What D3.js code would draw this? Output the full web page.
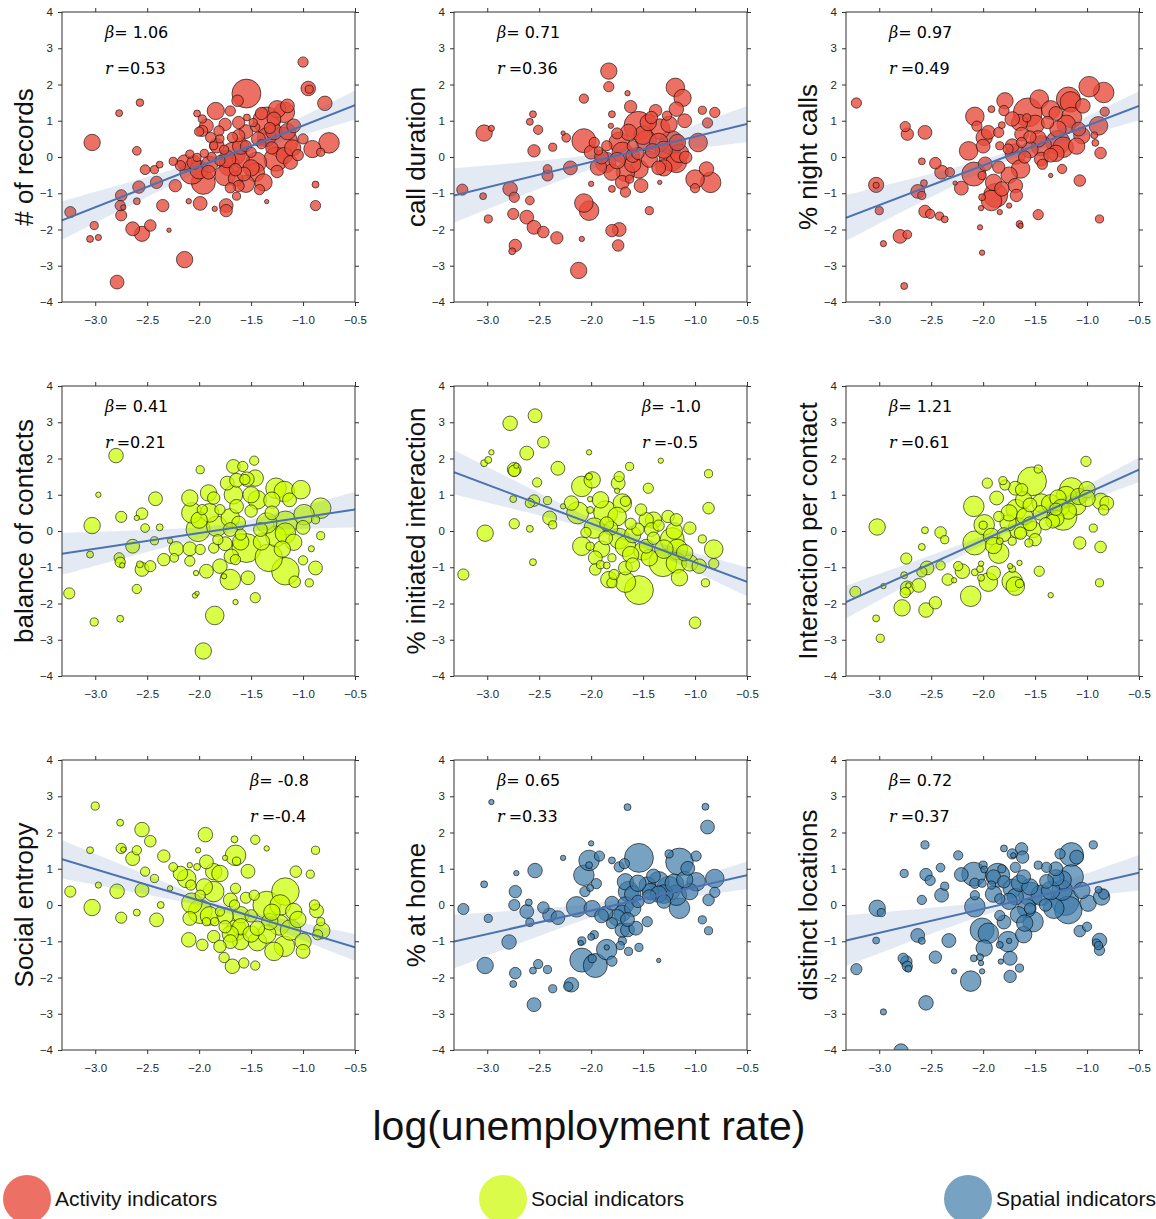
<!DOCTYPE html>
<html><head><meta charset="utf-8">
<script src="https://cdn.jsdelivr.net/npm/d3@7/dist/d3.min.js"></script>
<style>body{margin:0;background:#fff}svg{display:block}</style>
</head><body>
<svg id="chart" width="1156" height="1219"></svg>
<script>
// ---------- data ----------
const xTicks = [-3.0, -2.5, -2.0, -1.5, -1.0, -0.5];
const yTicks = [-4, -3, -2, -1, 0, 1, 2, 3, 4];
const xDomain = [-3.32, -0.5];
const yDomain = [-4, 4];
const xLabel = "log(unemployment rate)";
const groups = ["Activity indicators", "Social indicators", "Spatial indicators"];
const panelNames = ["# of records", "call duration", "% night calls", "balance of contacts", "% initiated interaction", "Interaction per contact", "Social entropy", "% at home", "distinct locations"];
const panelGroup = [0, 0, 0, 1, 1, 1, 1, 2, 2];
const betas = ["1.06", "0.71", "0.97", "0.41", "-1.0", "1.21", "-0.8", "0.65", "0.72"];
const corrs = ["0.53", "0.36", "0.49", "0.21", "-0.5", "0.61", "-0.4", "0.33", "0.37"];
const annotRight = [false, false, false, false, true, false, true, false, false];
// fitted line value at the left and right edge of the x domain
const fitEnds = [[-1.75, 1.43], [-1.06, 0.91], [-1.68, 1.41], [-0.63, 0.59], [1.62, -1.40], [-1.96, 1.69], [1.26, -1.17], [-1.01, 0.82], [-0.98, 0.89]];
// confidence band half-width: [left edge, narrowest, right edge]
const ciHalf = [[0.53, 0.12, 0.40], [0.75, 0.16, 0.50], [0.63, 0.13, 0.40], [0.58, 0.14, 0.49], [0.61, 0.12, 0.40], [0.45, 0.10, 0.34], [0.53, 0.11, 0.37], [0.74, 0.15, 0.38], [0.70, 0.15, 0.49]];
const ciCenter = -1.75;

// points: [log unemployment, indicator z-score, population]
const recordsPts = [[-3.24,-1.52,13],[-3.03,0.40,28],[-3.01,-1.89,7],[-3.05,-2.26,5],[-2.97,-2.22,4],[-2.77,1.21,5],[-2.79,-3.45,20],[-2.75,-1.06,14],[-2.76,-1.34,11],[-2.73,-1.39,3],[-2.75,-1.61,13],[-2.64,-1.98,20],[-2.55,-2.12,24],[-2.47,-1.89,14],[-2.57,1.50,6],[-2.60,0.17,8],[-2.60,-1.22,5],[-2.58,-0.83,16],[-2.52,-0.35,10],[-2.43,-0.35,7],[-2.38,-0.21,5],[-2.41,-0.70,16],[-2.35,-1.34,16],[-2.25,-0.12,7],[-2.29,-2.02,2],[-2.23,-0.79,16],[-2.14,-2.83,28],[-2.10,-1.22,3],[-1.99,-1.28,20],[-2.02,1.20,5],
[-1.545,1.75,87],[-1.35,1.0,79],[-1.18,1.23,44],[-1.2,0.4,100],[-1.26,-0.06,60],[-1.18,0.04,28],[-1.45,-0.15,44],[-1.46,-0.42,36],[-1.55,-0.74,31],[-1.67,0.08,60],[-1.71,-0.24,44],[-1.75,-0.51,44],[-1.84,1.27,31],[-1.96,-0.70,60],[-2.07,-0.42,60],[-1.83,0.31,22],[-1.93,0.86,20],[-0.95,1.89,22],[-0.79,1.48,22],[-0.75,0.39,44],[-0.91,0.22,31],[-1.0,2.62,11],[-0.94,1.87,7],[-0.88,-0.76,5],[-0.88,-1.34,11],[-0.83,0.13,7],[-1.62,0.59,16],[-1.68,0.54,11],[-1.70,1.27,11],[-1.63,1.55,14],[-1.62,0.95,16],[-1.81,0.72,11],[-1.80,0.50,7],[-1.97,1.05,7],[-1.97,0.72,13],[-1.89,0.54,11],[-1.86,0.31,7],[-1.74,-1.34,20],[-1.74,-1.48,16],[-1.64,-1.08,7],[-1.85,-1.43,3],[-1.35,-1.23,2],[-1.54,1.09,5],[-1.46,0.82,9],[-1.50,0.13,11],[-1.43,0.50,20],[-2.14,-0.15,24],[-2.18,-0.24,11],[-2.05,-0.15,20],[-2.09,0.08,7],[-2.02,-0.01,7],[-1.09,0.86,20],[-1.15,1.41,20],[-1.25,1.32,31],[-1.28,1.05,20],[-1.57,-0.47,20],[-1.38,-0.70,31],[-1.60,-0.06,31],[-1.73,-0.06,31],[-1.91,-0.42,20],[-1.12,-0.15,20],[-1.30,0.25,16],[-1.40,0.35,9],[-1.55,0.30,13],[-1.65,-0.35,16],[-1.80,-0.10,11],[-1.88,0.00,9],[-1.95,0.10,7],[-1.05,0.05,13],[-1.32,0.80,13],[-1.48,0.95,7],[-1.62,-0.80,13],[-1.25,-0.40,16],[-1.00,0.50,11],[-1.42,-0.90,11],[-1.76,0.20,9],[-2.00,0.70,9],[-1.70,-0.85,11],
[-1.35,0.55,36],[-1.28,0.70,28],[-1.50,-0.30,28],[-1.60,0.30,28],[-1.90,-0.20,28],[-2.00,-0.35,36],[-1.75,0.90,16],[-1.55,0.70,20],[-1.15,0.70,28],[-1.40,1.20,16],[-1.10,0.25,28],[-1.65,-0.60,22]];

const durationPts = [[-3.24,-0.90,13],[-3.03,0.66,28],[-2.96,0.79,4],[-2.99,-1.71,7],[-3.04,-1.08,5],[-2.78,-0.88,22],[-2.74,-1.11,11],[-2.75,-1.57,13],[-2.73,-2.44,16],[-2.76,-2.60,5],[-2.56,1.18,5],[-2.59,0.97,5],[-2.51,0.75,9],[-2.55,0.17,16],[-2.59,-1.20,8],[-2.62,-1.66,20],[-2.55,-1.94,20],[-2.46,-2.07,14],[-2.42,-0.33,8],[-2.42,-0.51,13],[-2.37,0.27,7],[-2.33,-2.23,16],[-2.27,0.66,2],[-2.24,0.53,8],[-2.20,-0.30,20],[-2.09,-2.26,3],[-2.12,-3.13,28],[-2.07,1.61,9],[-2.07,-1.27,36],[-2.02,-1.48,40],[-2.00,-0.74,3],
[-1.19,1.92,36],[-1.12,1.63,31],[-1.83,2.37,28],[-1.83,1.94,11],[-1.65,1.76,3],[-1.62,1.39,16],[-1.80,1.18,5],[-1.81,0.86,3],[-1.545,0.86,87],[-1.38,1.28,16],[-1.42,1.09,16],[-1.27,1.14,9],[-1.18,1.32,22],[-1.10,1.00,20],[-0.93,1.29,7],[-0.81,1.23,11],[-0.88,0.94,11],[-0.97,0.40,36],[-0.89,-0.33,22],[-0.85,-0.70,44],[-1.00,-0.61,36],[-1.00,-0.86,9],[-1.18,-0.15,44],[-1.23,-0.06,60],[-1.23,0.40,60],[-1.34,0.77,44],[-1.47,0.45,44],[-1.54,-0.33,36],[-1.52,-0.79,20],[-1.44,-1.48,7],[-1.34,-0.70,2],[-1.67,-0.97,11],[-1.73,-2.00,20],[-1.80,-2.03,16],[-1.74,-2.44,14],[-1.80,-0.42,28],[-1.67,-0.42,36],[-1.86,-0.15,44],[-1.93,-0.28,28],[-2.00,0.13,20],[-1.97,0.40,11],[-2.07,0.45,60],[-1.85,0.31,11],[-1.73,0.40,44],[-1.64,0.68,28],[-1.60,0.04,20],[-1.70,0.13,44],[-1.80,-0.88,5],[-1.63,-0.61,7],[-1.44,-0.06,28],[-1.41,0.17,22],[-1.17,0.40,28],[-1.09,-0.01,16],[-1.93,0.17,7],[-1.30,0.20,31],[-1.55,0.10,16],[-1.75,0.65,13],[-1.35,-0.30,20],[-1.60,0.30,13],
[-1.50,0.60,36],[-1.35,0.40,36],[-1.60,-0.20,28],[-1.75,-0.10,28],[-1.25,0.90,28],[-1.45,0.95,28],[-1.90,0.00,20],[-1.15,0.10,36],[-1.30,-0.30,28],[-1.70,-0.70,20]];

const nightPts = [[-3.22,1.49,11],[-3.03,-0.77,24],[-3.03,-0.78,4],[-3.00,-1.48,7],[-2.96,-2.39,4],[-2.75,0.84,11],[-2.73,0.63,16],[-2.80,-2.19,20],[-2.73,-2.14,8],[-2.76,-3.56,5],[-2.59,-0.12,5],[-2.56,0.68,20],[-2.57,-0.72,5],[-2.63,-0.95,20],[-2.59,-1.06,7],[-2.56,-1.50,16],[-2.51,-1.57,9],[-2.46,-0.17,14],[-2.42,-1.63,7],[-2.37,-1.72,5],[-2.40,-0.42,20],[-2.32,-0.42,9],[-2.27,-0.72,2],[-2.21,-0.86,20],[-2.14,0.17,36],[-2.08,1.12,36],[-2.06,0.85,11],[-2.01,-1.11,5],[-2.02,-1.41,3],[-2.03,-1.94,3],[-2.01,-2.64,3],[-1.84,-1.52,3],[-1.75,-1.34,3],[-1.65,-1.85,5],[-1.64,-1.90,3],[-1.47,-1.59,11],[-1.35,-0.51,2],[-1.07,-0.65,14],[-0.88,-1.71,7],[-0.87,0.11,14],[-0.92,0.39,5],[-0.83,1.25,9],[-0.84,1.78,44],[-0.98,1.94,44],[-1.04,1.41,22],[-0.89,0.86,36],[-0.93,0.60,5],[-1.18,1.60,60],[-1.16,1.52,44],[-1.15,1.09,44],[-1.28,0.77,28],[-1.28,0.40,60],[-1.23,0.27,44],[-1.24,-0.33,9],[-1.05,0.59,28],[-1.08,0.77,20],[-1.46,1.60,36],[-1.57,1.23,87],[-1.58,1.08,7],[-1.72,1.05,22],[-1.79,1.55,28],[-1.80,1.28,11],[-1.92,1.32,5],[-1.82,0.88,5],[-1.99,0.54,28],[-1.95,0.68,20],[-1.85,0.68,11],[-1.63,0.63,20],[-1.63,0.40,11],[-1.47,0.50,28],[-1.44,0.31,44],[-1.44,-0.06,20],[-1.43,-0.20,11],[-1.69,0.08,44],[-1.72,0.31,20],[-1.64,-0.33,36],[-1.69,-0.79,22],[-1.68,-1.06,16],[-1.88,-1.06,60],[-1.92,-1.20,44],[-1.82,-0.88,22],[-2.09,-0.47,60],[-1.98,-0.19,20],[-1.85,-0.28,16],[-2.01,-0.51,7],[-1.84,0.31,7],[-1.76,0.22,11],[-1.30,1.20,20],[-1.38,0.95,16],[-1.55,0.55,16],[-1.60,0.0,16],[-1.35,0.05,20],
[-1.50,0.90,36],[-1.35,1.30,36],[-1.20,0.90,36],[-1.55,0.20,28],[-1.75,-0.50,28],[-1.90,-0.70,28],[-1.65,0.95,28],[-1.10,0.30,28],[-1.30,0.10,28],[-2.00,0.30,20]];

const balancePts = [[-3.25,-1.72,13],[-3.03,0.15,28],[-2.97,1.00,3],[-3.05,-0.65,5],[-3.01,-2.51,7],[-2.80,2.08,22],[-2.75,0.39,13],[-2.76,-2.42,5],[-2.77,-0.74,11],[-2.76,-0.86,11],[-2.74,-0.95,3],[-2.60,0.36,3],[-2.55,0.48,14],[-2.60,-1.60,9],[-2.64,-0.42,20],[-2.55,-1.06,20],[-2.57,-0.92,5],[-2.47,-0.97,13],[-2.52,0.08,8],[-2.42,0.89,20],[-2.43,-0.27,7],[-2.38,0.10,5],[-2.34,-0.79,16],[-2.28,-0.27,3],[-2.24,-0.74,8],[-2.22,-0.49,22],[-1.99,1.69,7],[-2.09,-0.49,20],[-2.09,-0.83,11],[-2.03,-1.16,3],[-2.04,-1.78,3],[-2.02,-1.72,2],[-1.93,-1.11,20],[-1.85,-2.33,36],[-1.96,-3.31,28],[-1.76,-1.25,3],[-1.70,-1.34,44],[-1.65,-1.96,3],[-1.53,-1.29,20],[-1.46,-1.84,11],[-1.47,1.94,9],[-1.67,1.78,20],[-1.58,1.78,11],[-1.56,1.42,11],[-1.54,1.43,22],[-1.46,1.46,28],[-1.73,1.32,20],[-1.64,1.40,20],[-1.67,1.00,36],[-1.64,0.68,20],[-1.44,0.86,36],[-1.26,1.18,44],[-1.18,1.09,44],[-1.02,1.14,36],[-1.13,0.86,20],[-0.83,0.63,44],[-0.99,0.45,44],[-0.88,0.31,7],[-0.83,-0.13,7],[-0.92,-0.49,4],[-1.00,-0.81,9],[-0.88,-1.02,20],[-0.94,-1.43,7],[-1.08,-1.40,14],[-1.17,-1.11,79],[-1.33,-0.74,79],[-1.26,-0.15,44],[-1.17,-0.06,44],[-1.09,-0.31,28],[-1.17,0.22,60],[-1.35,0.22,44],[-1.545,-0.47,87],[-1.69,-0.70,22],[-1.65,-0.79,11],[-1.70,0.36,36],[-1.62,0.22,20],[-1.83,0.13,44],[-2.01,0.04,60],[-2.07,0.50,44],[-2.09,0.91,28],[-1.91,1.05,28],[-1.86,0.91,16],[-1.80,0.59,11],[-1.97,0.59,11],[-1.99,-0.51,11],[-1.86,-0.47,11],[-1.82,-0.24,11],[-1.70,0.04,20],[-1.80,-0.97,22],[-1.41,0.04,20],[-1.50,0.55,16],[-1.30,0.50,20],[-1.60,-0.10,13],
[-1.90,0.50,36],[-2.00,0.30,28],[-1.50,1.00,28],[-1.30,0.85,28],[-1.40,-0.30,28],[-1.60,-0.30,28],[-1.75,-0.35,20],[-1.20,-0.50,28],[-1.00,0.10,20]];

const initiatedPts = [[-3.23,-1.20,13],[-3.02,-0.06,28],[-3.03,1.87,5],[-2.99,1.96,5],[-2.96,2.17,3],[-2.78,2.97,22],[-2.74,1.66,14],[-2.72,1.80,3],[-2.74,1.70,20],[-2.75,0.88,5],[-2.74,0.20,11],[-2.59,0.06,5],[-2.56,-0.86,5],[-2.54,3.18,20],[-2.62,2.15,20],[-2.52,1.34,9],[-2.55,0.84,14],[-2.59,0.77,9],[-2.46,2.45,14],[-2.42,0.84,7],[-2.40,0.36,20],[-2.37,0.17,7],[-2.32,1.73,20],[-2.27,0.68,3],[-2.19,0.77,22],[-2.02,2.17,3],[-2.09,1.23,44],[-1.99,1.41,28],[-2.02,1.50,5],[-2.01,0.88,3],[-2.01,0.58,5],[-2.13,0.50,50],[-2.05,-0.04,11],[-2.09,-0.42,36],[-2.01,-0.42,7],[-1.96,-0.74,20],[-1.96,-1.06,14],[-1.91,-0.93,7],[-1.85,-0.95,5],[-1.80,-0.74,7],[-1.83,-1.34,28],[-1.80,-1.43,11],[-1.78,-1.20,11],[-1.67,-1.41,44],[-1.67,-1.02,20],[-1.54,-1.63,87],[-1.60,-0.93,20],[-1.62,-0.65,28],[-1.73,-0.21,44],[-1.67,-0.42,44],[-1.86,0.50,60],[-1.91,0.86,28],[-1.97,0.08,44],[-1.81,0.08,20],[-1.86,-0.19,20],[-1.73,1.50,11],[-1.74,1.32,20],[-1.75,1.11,3],[-1.63,1.78,7],[-1.70,0.77,36],[-1.67,0.82,11],[-1.52,0.59,14],[-1.45,1.18,11],[-1.33,1.94,3],[-1.47,0.31,22],[-1.42,0.04,20],[-1.44,-0.74,28],[-1.47,-0.42,20],[-1.31,-0.88,79],[-1.22,-0.24,60],[-1.26,0.40,16],[-1.18,0.31,16],[-1.17,-0.51,44],[-1.18,-0.88,44],[-1.15,-1.29,28],[-1.05,0.08,16],[-1.05,-0.88,28],[-0.96,-0.97,22],[-0.93,-0.22,7],[-0.82,-0.50,36],[-0.82,-0.90,11],[-0.90,-1.43,7],[-0.87,0.63,14],[-0.87,1.58,7],[-1.00,-2.53,14],[-1.55,0.05,16],[-1.40,-0.20,16],[-1.62,0.20,13],[-1.35,0.15,13],
[-1.75,0.40,36],[-1.60,-0.10,28],[-1.50,-0.55,36],[-1.30,-0.50,36],[-1.40,0.30,28],[-1.90,-0.50,28],[-1.20,0.00,28],[-1.10,-0.60,28],[-1.85,0.20,20]];

const interactionPts = [[-3.23,-1.68,13],[-3.02,0.11,28],[-3.03,-2.41,5],[-2.99,-2.96,7],[-2.96,-1.52,3],[-2.78,-2.12,28],[-2.74,-0.76,13],[-2.76,-1.22,5],[-2.73,-1.57,20],[-2.75,-1.70,11],[-2.72,-1.50,3],[-2.62,-1.50,20],[-2.59,-0.44,5],[-2.56,0.02,5],[-2.59,-1.13,11],[-2.54,-1.02,20],[-2.55,-2.18,22],[-2.46,-1.98,16],[-2.41,-0.95,9],[-2.41,-0.04,14],[-2.37,-0.24,7],[-2.34,-1.34,14],[-2.28,-1.36,3],[-2.24,-0.97,9],[-2.20,-1.11,22],[-2.12,-1.80,44],[-2.08,-1.14,5],[-2.09,0.68,44],[-2.08,-0.33,60],[-2.02,-0.90,3],[-2.03,-1.05,5],[-2.02,-1.29,5],[-1.99,0.17,44],[-1.96,1.32,11],[-2.00,0.16,7],[-1.95,-1.41,36],[-1.92,-0.15,28],[-1.90,-1.16,20],[-1.85,-0.61,44],[-1.84,-0.28,5],[-1.85,0.40,11],[-1.81,1.39,7],[-1.79,1.27,11],[-1.87,0.91,20],[-1.74,-0.97,3],[-1.72,-1.05,5],[-1.72,-1.39,44],[-1.69,-1.52,36],[-1.65,-1.45,7],[-1.65,-0.88,3],[-1.68,0.59,44],[-1.69,1.18,20],[-1.63,1.14,16],[-1.76,0.22,28],[-1.66,0.08,44],[-1.64,-0.06,16],[-1.72,-0.28,7],[-1.61,0.86,28],[-1.53,1.37,87],[-1.47,1.71,7],[-1.55,0.72,20],[-1.52,0.04,28],[-1.50,-0.24,16],[-1.56,-0.33,7],[-1.46,-1.11,11],[-1.35,-1.77,3],[-1.44,0.77,36],[-1.45,0.50,22],[-1.28,0.91,28],[-1.23,0.40,79],[-1.25,0.65,28],[-1.15,1.14,60],[-1.20,0.95,44],[-1.18,0.55,28],[-1.08,0.95,28],[-1.00,1.14,28],[-1.01,1.92,11],[-0.87,0.82,28],[-0.81,0.77,20],[-0.84,0.58,11],[-0.94,0.08,7],[-1.07,-0.33,16],[-0.87,-0.44,14],[-0.88,-1.43,7],[-1.33,0.27,20],[-1.40,0.20,16],[-1.30,0.60,16],
[-1.75,0.50,28],[-1.60,0.40,28],[-1.35,0.75,36],[-1.10,0.70,36],[-1.00,0.90,28],[-1.30,0.35,28],[-1.90,-0.40,28],[-1.80,-0.10,20],[-1.55,0.20,20]];

const entropyPts = [[-3.24,0.37,13],[-3.03,-0.07,28],[-3.00,2.73,7],[-3.05,1.51,5],[-2.97,0.55,4],[-2.79,0.38,22],[-2.76,2.27,5],[-2.75,1.56,11],[-2.73,1.53,3],[-2.75,-0.35,13],[-2.64,1.28,20],[-2.60,1.51,9],[-2.55,2.08,22],[-2.55,0.41,20],[-2.60,-0.21,5],[-2.52,0.92,9],[-2.47,1.76,14],[-2.43,0.73,7],[-2.41,-0.41,20],[-2.37,0.00,5],[-2.34,1.35,16],[-2.28,0.46,3],[-2.25,1.05,8],[-2.18,0.87,22],[-2.12,0.73,36],[-2.08,0.55,11],[-2.09,1.10,3],[-2.01,1.51,3],[-2.02,1.05,5],[-1.94,1.94,22],[-1.93,1.19,20],[-1.86,0.92,28],[-1.80,0.87,28],[-1.86,0.37,44],[-1.99,0.27,11],[-2.07,0.05,44],[-1.99,-0.18,60],[-2.09,-0.37,20],[-2.10,-0.96,22],[-1.97,-1.10,14],[-1.93,-0.46,7],[-1.85,-0.46,7],[-1.80,-0.18,9],[-1.86,-0.87,16],[-1.80,-1.14,16],[-1.76,-1.45,11],[-1.68,-1.69,22],[-1.57,-1.60,11],[-1.46,-1.67,9],[-1.65,1.37,44],[-1.75,1.30,3],[-1.64,1.21,7],[-1.66,1.81,5],[-1.46,1.80,9],[-1.35,1.56,3],[-1.53,0.93,20],[-1.65,0.46,11],[-1.70,0.14,20],[-1.66,0.00,11],[-1.60,-0.27,28],[-1.64,-0.69,44],[-1.70,-1.01,20],[-1.60,-1.01,28],[-1.47,0.27,11],[-1.44,-0.64,22],[-1.44,-1.01,36],[-1.35,0.00,79],[-1.32,-0.46,28],[-1.28,-1.28,36],[-1.17,0.37,79],[-1.22,0.00,44],[-1.23,-0.55,44],[-1.18,-1.14,44],[-1.09,-0.18,28],[-1.12,-0.69,44],[-1.00,-1.01,28],[-1.07,0.92,14],[-0.93,0.85,7],[-0.88,1.51,7],[-0.87,-0.16,20],[-0.89,0.00,11],[-0.82,-0.71,28],[-0.83,-0.46,7],[-0.86,-0.82,11],[-1.00,-1.28,20],[-1.50,-0.30,16],[-1.75,-0.60,16],[-1.55,0.20,13],
[-1.90,-0.30,36],[-1.75,-0.30,28],[-1.60,-0.60,28],[-1.50,-0.80,28],[-1.35,-0.80,36],[-1.30,-0.20,28],[-1.05,-0.40,28],[-1.70,-0.80,28],[-1.95,0.50,28]];

const homePts = [[-3.23,-0.11,13],[-2.96,2.84,3],[-3.03,0.57,5],[-2.99,-0.37,7],[-3.02,-1.67,28],[-2.79,-1.02,22],[-2.72,0.88,3],[-2.73,0.37,16],[-2.74,0.00,13],[-2.73,-1.88,14],[-2.75,-2.18,5],[-2.60,0.07,5],[-2.62,-0.18,20],[-2.59,-0.48,7],[-2.54,0.95,22],[-2.56,-1.81,5],[-2.55,-2.75,20],[-2.51,-1.63,9],[-2.46,-0.07,14],[-2.42,-1.78,7],[-2.40,-0.28,20],[-2.37,-2.31,7],[-2.32,-0.35,20],[-2.27,1.30,3],[-2.19,-2.20,22],[-2.22,-2.25,9],[-2.14,-0.05,44],[-2.09,-0.99,7],[-2.10,-1.05,3],[-2.07,0.82,44],[-2.02,1.23,44],[-2.06,0.37,11],[-1.99,-0.10,28],[-2.00,1.70,3],[-2.02,1.10,5],[-2.01,0.47,5],[-1.92,1.35,11],[-1.95,0.59,11],[-1.97,-0.82,7],[-2.00,-0.88,5],[-1.99,-1.48,7],[-2.09,-1.52,60],[-1.96,-1.67,60],[-1.85,-1.23,44],[-1.85,-1.17,3],[-1.80,-1.55,11],[-1.86,-0.23,22],[-1.80,0.05,20],[-1.80,1.23,5],[-1.73,1.05,11],[-1.68,1.14,11],[-1.70,-0.99,7],[-1.72,-1.12,7],[-1.64,-1.28,7],[-1.54,-1.17,7],[-1.65,2.70,5],[-1.54,1.30,87],[-1.67,0.64,28],[-1.64,0.37,44],[-1.67,0.00,28],[-1.70,-0.23,28],[-1.60,-0.09,28],[-1.65,-0.69,20],[-1.70,-0.69,22],[-1.57,-0.64,20],[-1.46,-0.46,11],[-1.35,-1.53,2],[-1.46,0.55,28],[-1.43,0.37,28],[-1.44,0.23,20],[-1.35,0.64,44],[-1.25,0.46,60],[-1.15,1.19,79],[-1.25,1.41,7],[-1.07,1.01,20],[-0.99,1.35,11],[-0.99,0.64,36],[-1.05,0.37,28],[-1.15,-0.09,44],[-1.18,0.27,44],[-0.81,0.73,36],[-0.81,0.35,11],[-0.87,0.14,14],[-0.88,2.15,20],[-0.90,2.71,5],[-0.93,-0.41,7],[-0.87,-0.71,7],[-1.35,0.30,28],[-1.55,0.10,16],[-1.80,-0.50,13],[-1.30,0.10,20],
[-1.60,0.30,28],[-1.55,0.60,28],[-1.30,0.30,36],[-1.20,0.60,36],[-1.75,-0.35,28],[-1.65,-0.40,20],[-1.40,0.80,20],[-1.10,0.70,28],[-1.90,-0.30,20]];

const locationsPts = [[-3.22,-1.77,13],[-3.02,-0.09,28],[-2.98,-0.21,7],[-3.03,-0.98,5],[-2.96,-2.95,4],[-2.76,0.87,7],[-2.77,-1.47,11],[-2.74,-1.56,14],[-2.73,-1.69,11],[-2.72,-1.76,5],[-2.79,-4.03,22],[-2.56,1.66,7],[-2.55,0.84,16],[-2.51,0.68,11],[-2.59,0.14,9],[-2.63,-0.84,20],[-2.59,-0.99,5],[-2.55,-2.70,22],[-2.46,-1.44,16],[-2.41,1.03,8],[-2.37,0.52,7],[-2.40,0.27,20],[-2.33,-0.98,20],[-2.28,-1.83,3],[-2.24,1.37,9],[-2.21,0.84,20],[-2.12,-2.10,44],[-2.09,-1.47,5],[-2.03,-1.44,5],[-2.02,-1.60,3],[-2.01,-1.83,3],[-2.00,1.10,7],[-1.99,0.98,5],[-2.09,0.85,60],[-2.08,0.60,11],[-2.08,0.27,9],[-2.08,-0.05,44],[-2.01,0.60,7],[-2.01,-0.69,60],[-1.99,-1.19,28],[-1.95,-0.78,44],[-1.92,0.55,7],[-1.90,0.78,20],[-1.86,0.82,60],[-1.80,0.64,16],[-1.80,1.56,5],[-1.82,1.00,7],[-1.84,0.17,11],[-1.84,-0.29,11],[-1.80,-0.47,20],[-1.84,-1.10,5],[-1.83,-1.56,3],[-1.76,-1.01,44],[-1.75,-0.99,3],[-1.74,-1.47,20],[-1.74,-1.97,16],[-1.65,-1.74,7],[-1.72,1.41,11],[-1.71,1.37,3],[-1.63,1.55,16],[-1.62,1.32,16],[-1.69,1.04,11],[-1.72,0.46,36],[-1.69,0.23,28],[-1.66,-0.27,28],[-1.61,-0.82,28],[-1.52,-0.46,44],[-1.58,-0.09,36],[-1.61,0.78,20],[-1.47,1.10,7],[-1.39,1.04,11],[-1.44,0.27,44],[-1.39,0.65,20],[-1.32,-0.09,44],[-1.26,1.41,11],[-1.24,0.69,36],[-1.24,0.41,44],[-1.15,1.39,60],[-1.10,1.32,20],[-1.15,0.78,60],[-1.21,0.09,79],[-1.18,-0.14,79],[-0.99,0.05,28],[-1.07,-0.72,14],[-1.00,-0.60,9],[-0.94,1.66,7],[-0.86,0.22,28],[-0.84,0.30,11],[-0.89,0.42,5],[-0.88,-0.98,22],[-0.91,-1.05,7],[-0.88,-1.25,11],[-0.89,-1.12,7],[-1.545,0.30,60],[-1.40,0.00,16],[-1.55,-0.10,13],
[-1.65,0.60,28],[-1.55,0.50,28],[-1.35,0.40,36],[-1.30,0.75,28],[-1.75,0.10,28],[-1.60,-0.50,28],[-1.90,0.30,28],[-1.05,0.40,28],[-1.30,1.00,20]];

const panelPoints = [recordsPts, durationPts, nightPts, balancePts, initiatedPts, interactionPts, entropyPts, homePts, locationsPts];

// ---------- styling / layout ----------
const groupFill = ["#e74c3c", "#ccff00", "#3d7ba8"];
const groupOpacity = [0.8, 0.72, 0.7];
const legendFill = ["#ec7063", "#dafb4a", "#78a2c2"];
const lineColor = "#4c72b0";
const colLeft = [62, 454, 846];
const rowTop = [12, 386, 760];
const pw = 293, ph = 290;

const svg = d3.select("#chart");
const x = d3.scaleLinear().domain(xDomain).range([0, pw]);
const y = d3.scaleLinear().domain(yDomain).range([ph, 0]);
const rScale = d3.scaleSqrt().domain([0, 100]).range([0, 15.5]);
const fmtX = d3.format(".1f");
const fmtY = d3.format("d");

panelNames.forEach((name, i) => {
  const col = i % 3, row = Math.floor(i / 3);
  const g = svg.append("g").attr("transform", `translate(${colLeft[col]},${rowTop[row]})`);
  const grp = panelGroup[i];

  g.append("clipPath").attr("id", "clip" + i)
    .append("rect").attr("width", pw).attr("height", ph);

  const plot = g.append("g").attr("clip-path", `url(#clip${i})`);

  const pts = panelPoints[i].slice().sort((a, b) => b[2] - a[2]);
  plot.selectAll("circle").data(pts).join("circle")
    .attr("cx", d => x(d[0]))
    .attr("cy", d => y(d[1]))
    .attr("r", d => rScale(d[2]))
    .attr("fill", groupFill[grp])
    .attr("fill-opacity", groupOpacity[grp])
    .attr("stroke", "#000")
    .attr("stroke-opacity", 0.75)
    .attr("stroke-width", 0.8);

  // regression line and CI band
  const [yl, yr] = fitEnds[i];
  const slope = (yr - yl) / (xDomain[1] - xDomain[0]);
  const fit = xv => yl + slope * (xv - xDomain[0]);
  const [hL, h0, hR] = ciHalf[i];
  const kL = Math.sqrt(hL * hL - h0 * h0) / (ciCenter - xDomain[0]);
  const kR = Math.sqrt(hR * hR - h0 * h0) / (xDomain[1] - ciCenter);
  const half = xv => {
    const k = xv < ciCenter ? kL : kR;
    return Math.sqrt(h0 * h0 + k * k * (xv - ciCenter) * (xv - ciCenter));
  };
  const xs = d3.range(0, 101).map(t => xDomain[0] + (xDomain[1] - xDomain[0]) * t / 100);
  plot.append("path").datum(xs)
    .attr("d", d3.area().x(d => x(d)).y0(d => y(fit(d) - half(d))).y1(d => y(fit(d) + half(d))))
    .attr("fill", lineColor).attr("fill-opacity", 0.15);
  plot.append("path").datum(xDomain)
    .attr("d", d3.line().x(d => x(d)).y(d => y(fit(d))))
    .attr("stroke", lineColor).attr("stroke-width", 2).attr("fill", "none");

  // axes
  const axStyle = sel => {
    sel.select(".domain").remove();
    sel.selectAll(".tick line").attr("stroke", "#333").attr("stroke-width", 1);
    sel.selectAll(".tick text").attr("fill", "#262626")
      .style("font-family", "'Liberation Sans', Arial, sans-serif").style("font-size", "11.5px");
  };
  g.append("g").attr("transform", `translate(0,${ph})`)
    .call(d3.axisBottom(x).tickValues(xTicks).tickFormat(fmtX).tickSize(4).tickPadding(10)).call(axStyle);
  g.append("g")
    .call(d3.axisTop(x).tickValues(xTicks).tickFormat("").tickSize(4)).call(axStyle);
  g.append("g")
    .call(d3.axisLeft(y).tickValues(yTicks).tickFormat(fmtY).tickSize(4).tickPadding(5)).call(axStyle);
  g.append("g").attr("transform", `translate(${pw},0)`)
    .call(d3.axisRight(y).tickValues(yTicks).tickFormat("").tickSize(4)).call(axStyle);

  g.append("rect").attr("width", pw).attr("height", ph)
    .attr("fill", "none").attr("stroke", "#333").attr("stroke-width", 1);

  // y label
  g.append("text")
    .attr("transform", `translate(-29,${ph / 2}) rotate(-90)`)
    .attr("text-anchor", "middle")
    .style("font-family", "'Liberation Sans', Arial, sans-serif")
    .style("font-size", "26px").attr("fill", "#111")
    .text(name);

  // annotations
  const ax = annotRight[i] ? 188 : 43;
  const t1 = g.append("text").attr("x", ax).attr("y", 26).style("font-size", "16px");
  t1.append("tspan").style("font-family", "'DejaVu Serif', serif").style("font-style", "italic").text("β");
  t1.append("tspan").style("font-family", "'DejaVu Serif', serif").text("=");
  t1.append("tspan").style("font-family", "'DejaVu Sans', sans-serif").attr("dx", 5).text(betas[i]);
  const t2 = g.append("text").attr("x", ax).attr("y", 62).style("font-size", "16px");
  t2.append("tspan").style("font-family", "'DejaVu Serif', serif").style("font-style", "italic").text("r");
  t2.append("tspan").style("font-family", "'DejaVu Serif', serif").attr("dx", 4).text("=");
  t2.append("tspan").style("font-family", "'DejaVu Sans', sans-serif").text(corrs[i]);
});

// x label
svg.append("text").attr("x", 589).attr("y", 1140).attr("text-anchor", "middle")
  .style("font-family", "'Liberation Sans', Arial, sans-serif").style("font-size", "41px")
  .attr("fill", "#111").text(xLabel);

// legend
const legX = [27, 503, 968];
groups.forEach((gname, k) => {
  svg.append("circle").attr("cx", legX[k]).attr("cy", 1199).attr("r", 24).attr("fill", legendFill[k]);
  svg.append("text").attr("x", legX[k] + 28).attr("y", 1206)
    .style("font-family", "'Liberation Sans', Arial, sans-serif").style("font-size", "21px")
    .attr("fill", "#111").text(gname);
});
</script>
</body></html>
